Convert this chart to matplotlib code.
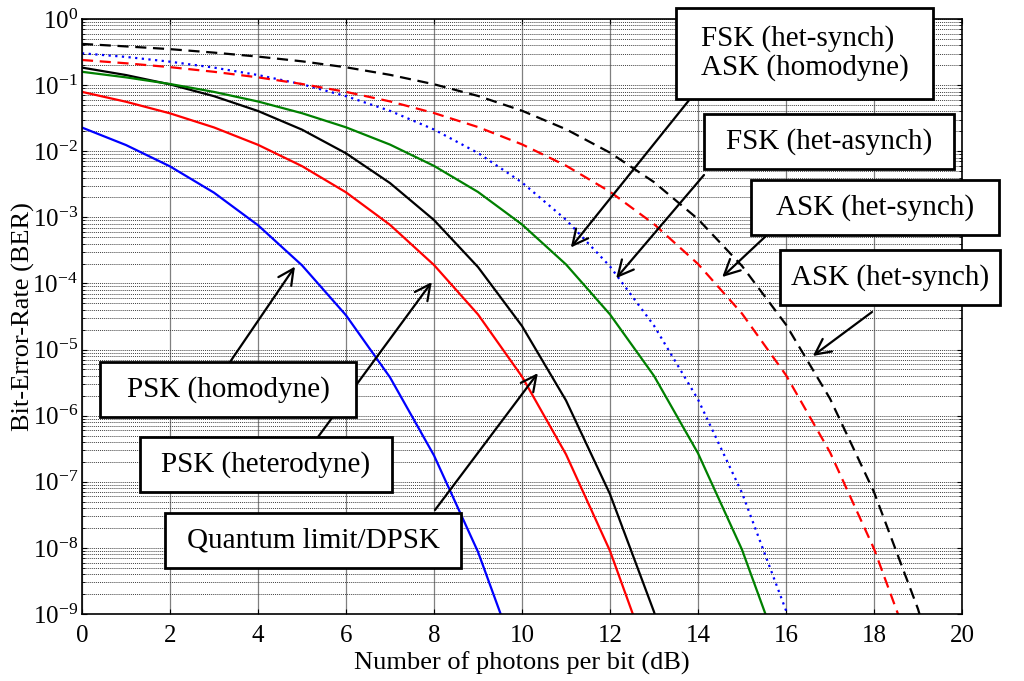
import matplotlib
matplotlib.use('Agg')
import matplotlib.pyplot as plt
from matplotlib.patches import Rectangle
from matplotlib.ticker import LogLocator, MultipleLocator, NullFormatter

plt.rcParams['font.family'] = ['Liberation Serif', 'DejaVu Serif']
plt.rcParams['mathtext.fontset'] = 'custom'
plt.rcParams['mathtext.rm'] = 'Liberation Serif'
plt.rcParams['mathtext.it'] = 'Liberation Serif:italic'

# photons per bit (dB), shared x grid for all curves
db = [0, 1, 2, 3, 4, 5, 6, 7, 8, 9, 10, 11, 12, 13, 14, 15, 16, 17, 18, 19, 20]

# BER values, one list per curve
ber_psk_hom = [2.28e-2, 1.24e-2, 5.9e-3, 2.36e-3, 7.6e-4, 1.88e-4, 3.3e-5,
               3.8e-6, 2.5e-7, 8.7e-9, 1.3e-10]
ber_psk_het = [7.9e-2, 5.6e-2, 3.74e-2, 2.29e-2, 1.25e-2, 5.95e-3, 2.39e-3,
               7.7e-4, 1.9e-4, 3.4e-5, 3.9e-6, 2.6e-7, 9.0e-9, 1.3e-10]
ber_dpsk = [0.184, 0.142, 0.1025, 0.068, 0.0406, 0.0212, 9.3e-3, 3.3e-3,
            9.1e-4, 1.77e-4, 2.27e-5, 1.7e-6, 6.5e-8, 1.08e-9, 6.2e-12]
ber_fsk_sync = [0.159, 0.131, 0.104, 0.0789, 0.0565, 0.0376, 0.023, 0.0126,
                6.0e-3, 2.42e-3, 7.8e-4, 1.94e-4, 3.4e-5, 4.0e-6, 2.7e-7,
                9.4e-9, 1.4e-10]
ber_fsk_async = [0.303, 0.267, 0.226, 0.184, 0.142, 0.103, 0.068, 0.0408,
                 0.0213, 9.4e-3, 3.37e-3, 9.2e-4, 1.81e-4, 2.3e-5, 1.76e-6,
                 6.8e-8, 1.13e-9, 6.5e-12]
ber_ask_sync = [0.24, 0.214, 0.187, 0.159, 0.131, 0.104, 0.079, 0.0567,
                0.0378, 0.0232, 0.0127, 6.05e-3, 2.44e-3, 7.9e-4, 1.97e-4,
                3.5e-5, 4.1e-6, 2.8e-7, 9.7e-9, 1.5e-10]
ber_ask_async = [0.42, 0.385, 0.35, 0.31, 0.27, 0.229, 0.186, 0.143, 0.103,
                 0.0686, 0.041, 0.0215, 9.5e-3, 3.41e-3, 9.4e-4, 1.84e-4,
                 2.38e-5, 1.81e-6, 7.0e-8, 1.19e-9, 6.9e-12]

# label boxes (image pixels: x0, y0, x1, y1), arrow tails (pixels), arrow tips (data)
labels = ['PSK (homodyne)', 'PSK (heterodyne)', 'Quantum limit/DPSK',
          'FSK (het-synch)\nASK (homodyne)', 'FSK (het-asynch)',
          'ASK (het-synch)', 'ASK (het-synch)']
boxes = [(100, 362, 356, 417), (140, 437, 392, 492), (165, 513, 461, 568),
         (676, 8, 933, 99), (704, 114, 954, 169), (751, 180, 999, 235),
         (780, 250, 1000, 305)]
tails = [(230, 362), (318, 437), (435, 510), (690, 99), (704, 175),
         (767, 235), (872, 312)]
tips = [(4.84, 1.8e-4), (7.95, 1.05e-4), (10.36, 4.4e-6), (11.11, 3.5e-4),
        (12.14, 1.2e-4), (14.55, 1.25e-4), (16.61, 8e-6)]

W, H = 1024, 681
fig = plt.figure(figsize=(W / 100, H / 100), dpi=100)
ax = fig.add_axes([82 / W, 1 - 614 / H, (962 - 82) / W, (614 - 19) / H])

lw = 1.6
ax.semilogy(db[:len(ber_psk_hom)], ber_psk_hom, color='#0000ff', lw=lw)
ax.semilogy(db[:len(ber_psk_het)], ber_psk_het, color='#ff0000', lw=lw)
ax.semilogy(db[:len(ber_dpsk)], ber_dpsk, color='black', lw=lw)
ax.semilogy(db[:len(ber_fsk_sync)], ber_fsk_sync, color='#008000', lw=lw)
ax.semilogy(db[:len(ber_fsk_async)], ber_fsk_async, color='#0000ff', lw=lw,
            linestyle=(0, (1, 2)))
ax.semilogy(db[:len(ber_ask_sync)], ber_ask_sync, color='#ff0000', lw=lw,
            linestyle=(0, (5, 3)))
ax.semilogy(db[:len(ber_ask_async)], ber_ask_async, color='black', lw=lw,
            linestyle=(0, (5, 3)))

ax.set_xlim(0, 20)
ax.set_ylim(1e-9, 1)
ax.xaxis.set_major_locator(MultipleLocator(2))
ax.yaxis.set_major_locator(LogLocator(base=10, numticks=12))
ax.yaxis.set_minor_locator(LogLocator(base=10, subs=range(2, 10), numticks=12))
ax.yaxis.set_minor_formatter(NullFormatter())

ax.grid(True, axis='x', which='major', color='#808080', lw=0.9)
ax.grid(True, axis='y', which='both', color='#404040', lw=0.7,
        linestyle=(0, (1, 1)))
ax.tick_params(which='both', direction='in', top=True, right=True,
               labelsize=18)
ax.tick_params(axis='x', pad=8)
ax.tick_params(axis='y', pad=3)
for sp in ax.spines.values():
    sp.set_linewidth(1.2)

ax.set_xlabel('Number of photons per bit (dB)', fontsize=19, labelpad=3)
ax.set_ylabel('Bit-Error-Rate (BER)', fontsize=19, labelpad=-2)

for (tx, ty), (px, py) in zip(tips, tails):
    ax.annotate('', xy=(tx, ty), xycoords='data',
                xytext=(px / W, 1 - py / H), textcoords='figure fraction',
                arrowprops=dict(arrowstyle='->', lw=1.6, color='black',
                                mutation_scale=28, shrinkA=0, shrinkB=0),
                annotation_clip=False)

for text, (x0, y0, x1, y1) in zip(labels, boxes):
    fig.add_artist(Rectangle((x0 / W, 1 - y1 / H), (x1 - x0) / W, (y1 - y0) / H,
                             transform=fig.transFigure, facecolor='white',
                             edgecolor='black', lw=2, zorder=5))
    fig.text((x0 + x1) / 2 / W, 1 - (y0 + y1) / 2 / H, text, ha='center',
             va='center', multialignment='left', fontsize=21, zorder=6,
             linespacing=1.1)

fig.savefig('out.png', dpi=100)
